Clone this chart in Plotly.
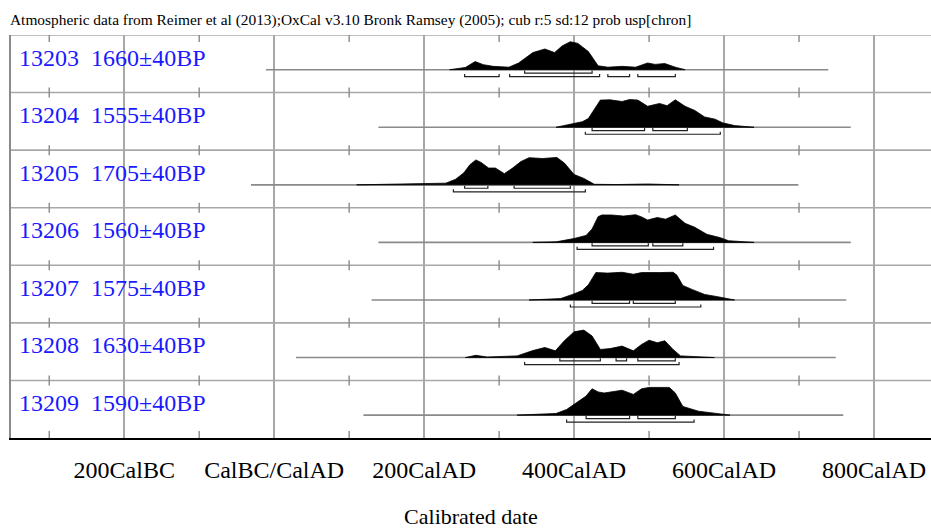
import plotly.graph_objects as go

# ---------------- data ----------------
sample_ids = ["13203", "13204", "13205", "13206", "13207", "13208", "13209"]
bp_ages = ["1660±40BP", "1555±40BP", "1705±40BP", "1560±40BP", "1575±40BP", "1630±40BP", "1590±40BP"]
line_start = [-11, 139, -31, 139, 130, 29, 119]
line_end = [739, 769, 699, 769, 763, 749, 759]

yr_13203 = [234, 255, 268, 279, 292, 313, 326, 345, 361, 374, 384, 395, 405, 419, 432, 445, 464, 482, 498, 508, 521, 535, 548]
p_13203 = [0, 0.08, 0.29, 0.18, 0.12, 0.09, 0.24, 0.61, 0.74, 0.61, 0.85, 1.0, 0.94, 0.65, 0.14, 0.09, 0.12, 0.09, 0.24, 0.19, 0.22, 0.09, 0]
yr_13204 = [376, 398, 411, 419, 427, 435, 448, 464, 474, 485, 498, 514, 524, 535, 548, 561, 574, 588, 598, 614, 640]
p_13204 = [0, 0.11, 0.2, 0.31, 0.66, 0.97, 0.98, 0.92, 0.99, 0.97, 0.75, 0.85, 0.77, 0.98, 0.75, 0.6, 0.37, 0.29, 0.16, 0.06, 0]
yr_13205 = [110, 129, 192, 229, 242, 253, 261, 269, 276, 286, 295, 307, 318, 329, 340, 358, 377, 387, 400, 413, 427, 456, 498, 519, 540]
p_13205 = [0, 0.01, 0.02, 0.06, 0.2, 0.43, 0.72, 0.89, 0.8, 0.6, 0.6, 0.4, 0.6, 0.83, 0.97, 0.94, 0.98, 0.78, 0.37, 0.23, 0.02, 0.01, 0.03, 0.02, 0]
yr_13206 = [345, 376, 400, 416, 424, 432, 437, 450, 466, 482, 490, 498, 511, 522, 535, 548, 561, 577, 595, 606, 640]
p_13206 = [0, 0.02, 0.14, 0.25, 0.48, 0.92, 0.98, 0.98, 0.94, 0.99, 0.91, 0.8, 0.89, 0.83, 0.98, 0.68, 0.54, 0.29, 0.17, 0.06, 0]
yr_13207 = [340, 382, 398, 411, 419, 429, 445, 464, 479, 490, 514, 532, 537, 545, 558, 574, 595, 614]
p_13207 = [0, 0.05, 0.2, 0.34, 0.54, 0.98, 0.96, 0.99, 0.92, 0.98, 0.98, 0.99, 0.89, 0.52, 0.37, 0.2, 0.1, 0]
yr_13208 = [255, 269, 284, 324, 345, 361, 375, 387, 400, 413, 424, 435, 448, 464, 479, 490, 500, 511, 521, 532, 542, 587]
p_13208 = [0, 0.08, 0.02, 0.06, 0.25, 0.36, 0.24, 0.6, 0.92, 0.98, 0.77, 0.29, 0.32, 0.41, 0.24, 0.47, 0.62, 0.53, 0.6, 0.29, 0.06, 0]
yr_13209 = [324, 361, 376, 390, 403, 416, 424, 432, 440, 464, 479, 490, 500, 514, 527, 535, 545, 566, 587, 608]
p_13209 = [0, 0.06, 0.06, 0.2, 0.45, 0.68, 0.94, 0.83, 0.79, 0.89, 0.74, 0.94, 0.99, 0.98, 0.99, 0.79, 0.31, 0.14, 0.06, 0]

range68 = [
    [(334, 424)],
    [(424, 494), (505, 551)],
    [(254, 285), (320, 395)],
    [(424, 499), (505, 545)],
    [(424, 474), (479, 535)],
    [(381, 435), (456, 470), (485, 535)],
    [(416, 474), (485, 535)],
]
range95 = [
    [(254, 300), (314, 434), (445, 474), (485, 535)],
    [(415, 595)],
    [(239, 415)],
    [(404, 586)],
    [(395, 569)],
    [(334, 540)],
    [(390, 560)],
]

dist_years = [yr_13203, yr_13204, yr_13205, yr_13206, yr_13207, yr_13208, yr_13209]
dist_probs = [p_13203, p_13204, p_13205, p_13206, p_13207, p_13208, p_13209]

major_ticks = [-200, 0, 200, 400, 600, 800]
major_labels = ["200CalBC", "CalBC/CalAD", "200CalAD", "400CalAD", "600CalAD", "800CalAD"]
minor_ticks = [-300, -100, 100, 300, 500, 700]

title_text = "Atmospheric data from Reimer et al (2013);OxCal v3.10 Bronk Ramsey (2005); cub r:5 sd:12 prob usp[chron]"

# ---------------- layout geometry (pixel-like y units, reversed) ----------------
n = len(sample_ids)
H = 403.0
row_h = H / n
base_off = 34.7
peak_h = 28.0

fig = go.Figure()

# baselines
for i in range(n):
    b = i * row_h + base_off
    fig.add_trace(go.Scatter(x=[line_start[i], line_end[i]], y=[b, b], mode="lines",
                             line=dict(color="#8a8a8a", width=1.6), hoverinfo="skip", showlegend=False))

# distributions
for i in range(n):
    b = i * row_h + base_off
    xs = list(dist_years[i])
    ys = [b - p * peak_h for p in dist_probs[i]]
    fx = xs + xs[::-1]
    fy = ys + [b] * len(xs)
    fig.add_trace(go.Scatter(x=fx, y=fy, mode="lines", fill="toself", fillcolor="black",
                             line=dict(color="black", width=0.8), hoverinfo="skip", showlegend=False))

# brackets
bx, by = [], []
for i in range(n):
    b = i * row_h + base_off
    for (lo, hi) in range68[i]:
        y1, y0 = b + 3.4, b + 0.8
        bx += [lo, lo, hi, hi, None]
        by += [y0, y1, y1, y0, None]
    for (lo, hi) in range95[i]:
        y1, y0 = b + 7.0, b + 4.4
        bx += [lo, lo, hi, hi, None]
        by += [y0, y1, y1, y0, None]
fig.add_trace(go.Scatter(x=bx, y=by, mode="lines", line=dict(color="#222222", width=1.2),
                         hoverinfo="skip", showlegend=False))

# minor tick marks at separators
tx, ty = [], []
for k in range(n + 1):
    s = k * row_h
    for t in minor_ticks:
        if k == 0:
            y0, y1 = s, s + 7
        elif k == n:
            y0, y1 = s - 7, s
        else:
            y0, y1 = s - 5, s + 5
        tx += [t, t, None]
        ty += [y0, y1, None]
fig.add_trace(go.Scatter(x=tx, y=ty, mode="lines", line=dict(color="#8a8a8a", width=1.4),
                         hoverinfo="skip", showlegend=False))

# row separators
for k in range(n):
    fig.add_shape(type="line", xref="paper", x0=0, x1=1, yref="y", y0=k * row_h, y1=k * row_h,
                  line=dict(color="#a8a8a8", width=1.6), layer="below")

# row labels
for i in range(n):
    fig.add_annotation(xref="paper", x=0, xanchor="left", xshift=6,
                       yref="y", y=i * row_h + 22.5, yanchor="middle",
                       text=f"{sample_ids[i]}&nbsp;&nbsp;{bp_ages[i]}", showarrow=False,
                       font=dict(family="Liberation Serif", size=24, color="#1a1aff"))

fig.add_annotation(xref="paper", x=0, xanchor="left", xshift=-3, yref="paper", y=1, yanchor="middle",
                   yshift=15, text=title_text, showarrow=False,
                   font=dict(family="Liberation Serif", size=15.4, color="black"))

fig.update_layout(
    width=931, height=529,
    margin=dict(l=11, r=0, t=35, b=91),
    paper_bgcolor="white", plot_bgcolor="white",
    xaxis=dict(range=[-351, 876], tickvals=major_ticks, ticktext=major_labels, automargin=False,
               showgrid=True, gridcolor="#a8a8a8", gridwidth=1.6, zeroline=False,
               showline=True, linecolor="black", linewidth=2, ticks="", ticklabelstandoff=9,
               tickfont=dict(family="Liberation Serif", size=24, color="black"),
               title=dict(text="Calibrated date", standoff=33,
                          font=dict(family="Liberation Serif", size=22, color="black"))),
    yaxis=dict(range=[H, 0], showgrid=False, zeroline=False, showticklabels=False, ticks="",
               automargin=False, showline=True, linecolor="#8a8a8a", linewidth=1.6),
    showlegend=False,
)

fig.write_html("out.html", config={"displayModeBar": False},
               post_script="document.body.style.margin='0';document.body.style.overflow='hidden';")
